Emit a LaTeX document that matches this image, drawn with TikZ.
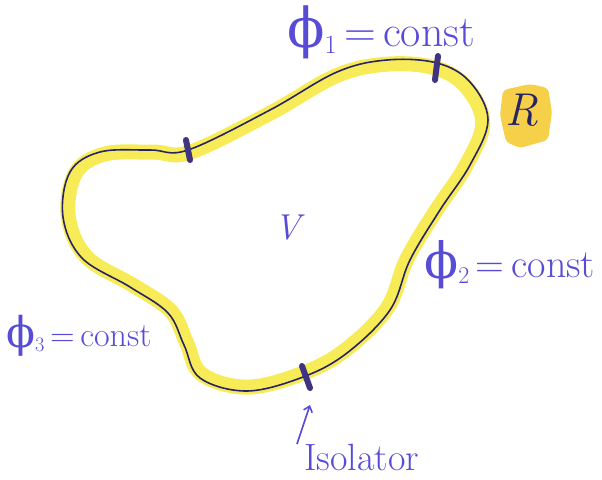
\documentclass[tikz,border=0pt]{standalone}
\usepackage{fontspec}
\newfontfamily\grkfont{DejaVu Serif}
\usetikzlibrary{arrows.meta}
\definecolor{ink}{RGB}{88,76,214}
\definecolor{wire}{RGB}{40,36,100}
\definecolor{hilite}{RGB}{246,234,70}
\definecolor{patch}{RGB}{245,200,40}
\definecolor{insul}{RGB}{62,52,130}
\tikzset{
  lbl/.style={text=ink, inner sep=0pt},
  insmark/.style={draw=insul, line width=6pt, line cap=round},
}
\newcommand{\phisym}[1]{\raisebox{-0.1ex}{\scalebox{1.25}{\grkfont ϕ}}\raisebox{-0.4ex}{\scalebox{0.6}{#1}}}
\begin{document}
\begin{tikzpicture}[x=1pt,y=-1pt]
\useasboundingbox (0,0) rectangle (602,479);
\def\blob{plot[smooth cycle, tension=0.6] coordinates {
 (188,150) (270,110) (337,72) (387,60) (437,63) (470,82) (488,120)
 (470,165) (440,210) (410,260) (390,310) (347,353) (303,377) (247,391)
 (200,378) (184,345) (168,313) (130,287) (82,258) (63,217) (70,172) (100,152) (150,150)}}
% highlighter
\begin{scope}[shift={(280,235)}, scale=0.975, shift={(-280,-235)}]
\draw[hilite, line width=15pt, opacity=0.9] \blob;
\end{scope}
% wire
\draw[wire, line width=1.6pt] \blob;
% R patch
\fill[patch, opacity=0.85, rounded corners=4pt] (503,90) -- (530,84) -- (548,88) -- (552,112) -- (548,140) -- (520,148) -- (506,142) -- (500,115) -- cycle;
\node[text=wire, inner sep=0pt, font=\fontsize{46}{48}\selectfont\itshape] (R) at (522,110) {R};
% insulators
\coordinate (i1a) at (438,56); \coordinate (i1b) at (435,80);
\coordinate (i2a) at (186,140); \coordinate (i2b) at (190,160);
\coordinate (i3a) at (302,366); \coordinate (i3b) at (310,388);
\draw[insmark] (i1a) -- (i1b);
\draw[insmark] (i2a) -- (i2b);
\draw[insmark] (i3a) -- (i3b);
% labels
\node[lbl, anchor=base west, font=\fontsize{44}{46}\selectfont] (p1) at (287,46) {\phisym{1}\,=\,const};
\node[lbl, anchor=base west, font=\fontsize{40}{42}\selectfont] (p2) at (424,277) {\phisym{2}\,=\,const};
\node[lbl, anchor=base west, font=\fontsize{34}{36}\selectfont] (p3) at (6,346) {\phisym{3}\,=\,const};
\node[lbl, font=\fontsize{36}{38}\selectfont\itshape] (V) at (288,228) {V};
\node[lbl, anchor=base west, font=\fontsize{38}{40}\selectfont] (iso) at (304,470) {Isolator};
\coordinate (arrowtail) at (297,444);
\draw[ink, line width=1.6pt, -{Straight Barb[angle=80:7pt]}] (arrowtail) -- (i3b |- 0,405);
\end{tikzpicture}
\end{document}
